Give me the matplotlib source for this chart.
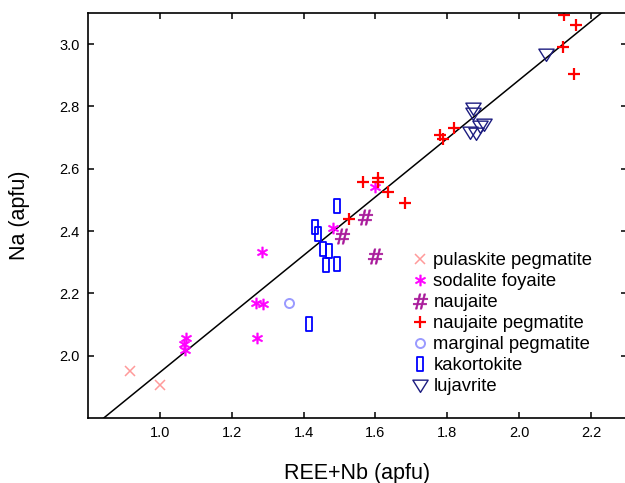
import matplotlib
matplotlib.use("Agg")
import matplotlib.pyplot as plt
from matplotlib.path import Path
import numpy as np

plt.rcParams['font.family'] = ['Liberation Sans', 'DejaVu Sans']
plt.rcParams['mathtext.fontset'] = 'dejavusans'

# data (REE+Nb vs Na, apfu)
pulaskite_x = [0.916, 0.999]
pulaskite_y = [1.950, 1.907]

sodalite_x = [1.072, 1.068, 1.069, 1.284, 1.268, 1.287, 1.270, 1.483, 1.599]
sodalite_y = [2.057, 2.038, 2.019, 2.334, 2.169, 2.166, 2.057, 2.409, 2.543]

naujaite_x = [1.571, 1.508, 1.599]
naujaite_y = [2.445, 2.385, 2.321]

naujpeg_x = [1.527, 1.682, 2.126, 2.159, 2.122, 2.153, 1.780, 1.787, 1.819,
             1.564, 1.608, 1.608, 1.636]
naujpeg_y = [2.439, 2.489, 3.093, 3.063, 2.991, 2.904, 2.708, 2.695, 2.730,
             2.557, 2.571, 2.559, 2.527]

marginal_x = [1.358]
marginal_y = [2.169]

kakort_x = [1.494, 1.432, 1.441, 1.453, 1.471, 1.462, 1.494, 1.414]
kakort_y = [2.479, 2.414, 2.391, 2.342, 2.337, 2.292, 2.295, 2.103]

lujav_x = [2.074, 1.872, 1.872, 1.864, 1.881, 1.892, 1.903]
lujav_y = [2.967, 2.795, 2.779, 2.718, 2.715, 2.737, 2.744]

# regression line
fit_slope = 0.9386
fit_icpt = 1.008

# tall open rectangle and flat-topped open triangle markers
rect = Path([(-0.4, -1), (0.4, -1), (0.4, 1), (-0.4, 1), (-0.4, -1)],
            [Path.MOVETO, Path.LINETO, Path.LINETO, Path.LINETO, Path.CLOSEPOLY])
tri = Path([(-1, 0.7), (1, 0.7), (0, -0.9), (-1, 0.7)],
           [Path.MOVETO, Path.LINETO, Path.LINETO, Path.CLOSEPOLY])

fig = plt.figure(figsize=(6.25, 4.83), dpi=100)
ax = fig.add_axes([88 / 625, 65 / 483, 539 / 625, 405 / 483])

xx = np.array([0.8, 2.3])
ax.plot(xx, fit_slope * xx + fit_icpt, color='black', lw=1.1, zorder=1)

ax.plot(pulaskite_x, pulaskite_y, ls='none', marker='x', ms=6.5, mew=1.1,
        color='#ff9a9a', label='pulaskite pegmatite')
ax.plot(sodalite_x, sodalite_y, ls='none', marker=r'$\ast$', ms=8, mew=0.4,
        color='#ff00ff', label='sodalite foyaite')
ax.plot(naujaite_x, naujaite_y, ls='none', marker=r'$\#$', ms=11, mew=0.4,
        color='#a8189a', label='naujaite')
ax.plot(naujpeg_x, naujpeg_y, ls='none', marker='+', ms=9, mew=1.6,
        color='#ff0000', label='naujaite pegmatite')
ax.plot(marginal_x, marginal_y, ls='none', marker='o', ms=6.5, mew=1.4,
        mfc='none', color='#9a9aff', label='marginal pegmatite')
ax.plot(kakort_x, kakort_y, ls='none', marker=rect, ms=9.5, mew=1.3,
        mfc='none', color='#0000ff', label='kakortokite')
ax.plot(lujav_x, lujav_y, ls='none', marker=tri, ms=11, mew=1.0,
        mfc='none', color='#1c1c80', label='lujavrite')

ax.set_xlim(0.8, 2.3)
ax.set_ylim(1.8, 3.1)
ax.set_xticks([1.0, 1.2, 1.4, 1.6, 1.8, 2.0, 2.2])
ax.set_yticks([2.0, 2.2, 2.4, 2.6, 2.8, 3.0])
ax.xaxis.set_major_formatter(matplotlib.ticker.FormatStrFormatter('%.1f'))
ax.yaxis.set_major_formatter(matplotlib.ticker.FormatStrFormatter('%.1f'))
ax.tick_params(direction='in', length=4, width=1.1, labelsize=10.5, pad=6,
               top=True, right=True)
for sp in ax.spines.values():
    sp.set_linewidth(1.2)

ax.set_xlabel('REE+Nb (apfu)', fontsize=15.5)
ax.set_ylabel('Na (apfu)', fontsize=15.5)
ax.xaxis.set_label_coords(0.5, -0.112)
ax.yaxis.set_label_coords(-0.108, 0.5)

ax.legend(loc='upper left', bbox_to_anchor=((413 - 88) / 539, (418 - 252) / 405),
          frameon=False, fontsize=13.3, handlelength=0.8, handletextpad=0.3,
          labelspacing=0.22, borderpad=0, borderaxespad=0)

fig.savefig('out.png', dpi=100)
